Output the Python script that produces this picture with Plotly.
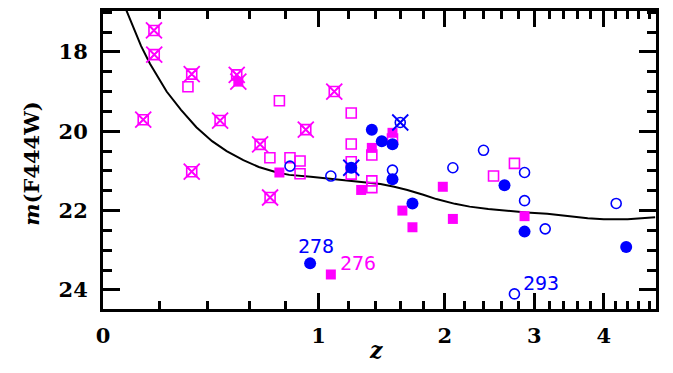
import math
import plotly.graph_objects as go

MAGENTA = "#FF00FF"
BLUE = "#0000FF"

# ---- data: redshift z and magnitude m(F444W) ----
# magenta, open squares crossed by an X
magx_z = [0.178, 0.179, 0.330, 0.537, 0.138, 0.457, 0.657, 0.330, 0.711, 1.103, 0.919]
magx_m = [17.46, 18.07, 18.56, 18.58, 19.71, 19.73, 20.33, 21.02, 21.67, 19.00, 19.96]
# magenta, filled square crossed by an X
magfx_z = [0.545]
magfx_m = [18.75]
# magenta, open squares
mago_z = [0.314, 0.763, 0.710, 0.824, 0.884, 0.884, 1.221, 1.221, 1.221, 1.221,
          1.373, 1.373, 1.373, 1.536, 2.753, 2.509]
mago_m = [18.88, 19.23, 20.67, 20.67, 20.75, 21.07, 19.54, 20.32, 20.77, 21.08,
          20.60, 21.25, 21.42, 20.20, 20.81, 21.13]
# magenta, filled squares
magf_z = [0.763, 1.536, 1.373, 1.293, 1.618, 1.704, 1.981, 2.079, 2.877, 1.080]
magf_m = [21.04, 20.04, 20.42, 21.48, 22.00, 22.42, 21.40, 22.21, 22.14, 23.61]
# blue, filled circles
bluf_z = [1.373, 1.450, 1.536, 1.536, 1.704, 2.635, 2.877, 4.375, 0.946]
bluf_m = [19.96, 20.25, 20.33, 21.21, 21.82, 21.36, 22.53, 22.92, 23.33]
# blue, filled circle crossed by an X
blufx_z = [1.221]
blufx_m = [20.92]
# blue, open circles
bluo_z = [0.824, 1.080, 1.536, 2.079, 2.398, 2.877, 2.877, 3.143, 4.205, 2.753]
bluo_m = [20.88, 21.13, 20.98, 20.92, 20.48, 21.04, 21.75, 22.46, 21.82, 24.10]
# blue, open circle crossed by an X
bluox_z = [1.600]
bluox_m = [19.78]

# model track
curve_z = [0.075, 0.10, 0.13, 0.163, 0.20, 0.227, 0.285, 0.35, 0.42, 0.488, 0.57,
           0.65, 0.75, 0.82, 0.95, 1.08, 1.25, 1.44, 1.55, 1.66, 1.80, 1.92, 2.10,
           2.25, 2.45, 2.62, 2.90, 3.17, 3.49, 3.75, 4.00, 4.40, 4.90]
curve_m = [16.90, 17.35, 17.85, 18.30, 18.70, 19.00, 19.46, 19.90, 20.25, 20.50, 20.73,
           20.90, 21.04, 21.10, 21.15, 21.20, 21.26, 21.33, 21.40, 21.48, 21.60, 21.71, 21.83,
           21.90, 21.96, 22.00, 22.05, 22.08, 22.15, 22.19, 22.22, 22.22, 22.17]

# labelled objects: (id, z, m, colour)
labels = [("278", 0.946, 23.33, BLUE), ("276", 1.080, 23.61, MAGENTA), ("293", 2.753, 24.10, BLUE)]

# axis ticks
x_major = [0, 1, 2, 3, 4]
x_minor = [round(0.2 * k, 1) for k in range(1, 25) if k % 5 != 0]
y_major = [18, 20, 22, 24]


def onep(zs):
    return [1 + z for z in zs]


fig = go.Figure()

fig.add_trace(go.Scatter(x=onep(curve_z), y=curve_m, mode="lines",
                         line=dict(color="black", width=2), hoverinfo="skip"))


def add_markers(zs, ms, symbol, color, size, lw):
    fig.add_trace(go.Scatter(
        x=onep(zs), y=ms, mode="markers",
        marker=dict(symbol=symbol, size=size, color=color,
                    line=dict(color=color, width=lw)),
    ))


add_markers(mago_z, mago_m, "square-open", MAGENTA, 10, 1.6)
add_markers(magx_z, magx_m, "square-x-open", MAGENTA, 10, 1.6)
add_markers(magx_z, magx_m, "x-thin-open", MAGENTA, 16, 1.8)
add_markers(magfx_z, magfx_m, "square", MAGENTA, 10, 0)
add_markers(magfx_z, magfx_m, "x-thin-open", MAGENTA, 16, 1.8)
add_markers(magf_z, magf_m, "square", MAGENTA, 10, 0)
add_markers(bluo_z, bluo_m, "circle-open", BLUE, 10, 1.6)
add_markers(bluox_z, bluox_m, "circle-x-open", BLUE, 10, 1.6)
add_markers(bluox_z, bluox_m, "x-thin-open", BLUE, 16, 1.8)
add_markers(bluf_z, bluf_m, "circle", BLUE, 12, 0)
add_markers(blufx_z, blufx_m, "circle", BLUE, 12, 0)
add_markers(blufx_z, blufx_m, "x-thin-open", BLUE, 16, 1.8)

# object ids next to their markers
shifts = {"278": (6, 17), "276": (27, 11), "293": (27, 11)}
for name, z, m, col in labels:
    dx, dy = shifts[name]
    fig.add_annotation(x=math.log10(1 + z), y=m, xref="x", yref="y", text=name,
                       showarrow=False, xshift=dx, yshift=dy,
                       xanchor="center", yanchor="middle",
                       font=dict(family="DejaVu Sans Mono", size=20, color=col))

tick_font = dict(family="DejaVu Serif", size=21, color="black", weight="bold")

fig.update_xaxes(
    type="log", range=[0, 0.772],
    tickmode="array", tickvals=onep(x_major), ticktext=[str(v) for v in x_major],
    ticks="inside", ticklen=16, tickwidth=2.5, tickcolor="black",
    minor=dict(tickmode="array", tickvals=onep(x_minor), ticks="inside",
               ticklen=8, tickwidth=2.5, tickcolor="black", showgrid=False),
    showline=True, linecolor="black", linewidth=3, mirror="ticks",
    showgrid=False, zeroline=False, tickfont=tick_font, ticklabelstandoff=6,
)
fig.update_yaxes(
    range=[24.48, 16.97],
    tickmode="array", tickvals=y_major, ticktext=[str(v) for v in y_major],
    ticks="inside", ticklen=17, tickwidth=2.5, tickcolor="black",
    minor=dict(dtick=0.5, tick0=0, ticks="inside", ticklen=9, tickwidth=2.5,
               tickcolor="black", showgrid=False),
    showline=True, linecolor="black", linewidth=3, mirror="ticks",
    showgrid=False, zeroline=False, tickfont=tick_font, ticklabelstandoff=8,
)

fig.add_annotation(text="<b><i>z</i></b>", xref="paper", yref="paper", x=0.494, y=-0.136,
                   xanchor="center", yanchor="middle",
                   showarrow=False, font=dict(family="DejaVu Serif", size=22, color="black"))
fig.add_annotation(text="<b><i>m</i>(F444W)</b>", xref="paper", yref="paper", x=-0.130, y=0.488,
                   xanchor="center", yanchor="middle",
                   textangle=-90, showarrow=False,
                   font=dict(family="DejaVu Serif", size=21, color="black"))

fig.update_layout(
    width=673, height=373, showlegend=False,
    margin=dict(l=103, r=17, t=8, b=64),
    paper_bgcolor="white", plot_bgcolor="white",
)

fig.write_html("out.html")
